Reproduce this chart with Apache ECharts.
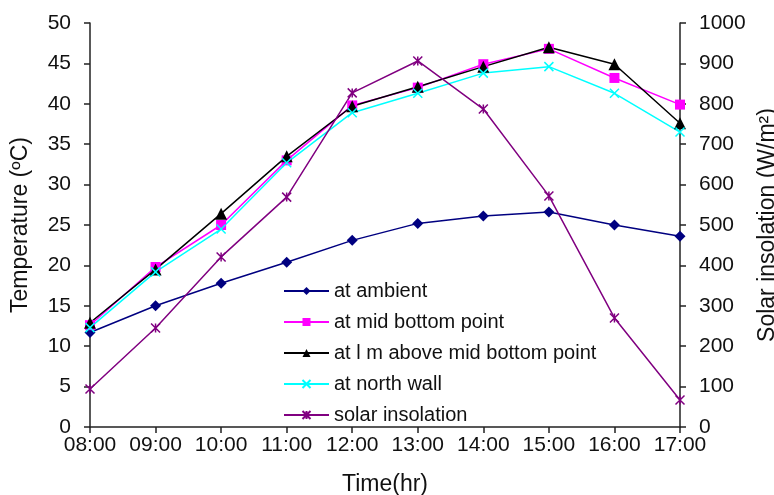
<!DOCTYPE html>
<html>
<head>
<meta charset="utf-8">
<script src="https://cdn.jsdelivr.net/npm/echarts@6/dist/echarts.min.js"></script>
<style>
  html, body { margin: 0; padding: 0; background: #fff; }
  #chart { width: 774px; height: 495px; }
</style>
</head>
<body>
<div id="chart"></div>
<script>
// Hourly readings, 08:00 to 17:00
const hours = ['08:00', '09:00', '10:00', '11:00', '12:00', '13:00', '14:00', '15:00', '16:00', '17:00'];
const tempAmbient = [11.7, 15.0, 17.8, 20.4, 23.1, 25.2, 26.1, 26.6, 25.0, 23.6];
const tempMidBottom = [12.6, 19.8, 25.0, 33.0, 39.8, 42.0, 44.9, 46.8, 43.2, 39.9];
const tempAboveMid = [12.9, 19.5, 26.4, 33.5, 39.7, 42.1, 44.6, 47.0, 44.9, 37.6];
const tempNorthWall = [12.3, 19.2, 24.5, 32.7, 38.9, 41.3, 43.8, 44.6, 41.3, 36.5];
const solarInsolation = [94, 245, 421, 569, 827, 906, 787, 572, 270, 67];

const FONT = '"Liberation Sans", Arial, sans-serif';
const AXIS_COLOR = '#222';

// Stroked marker shapes: a cross and an asterisk
const crossPath = 'path://M0,0L10,10M10,0L0,10';
const starPath = 'path://M0,0L10,10M10,0L0,10M5,0L5,10';

function lineSeries(name, data, color, symbol, size, yAxisIndex, stroked) {
  return {
    name: name,
    type: 'line',
    data: data,
    yAxisIndex: yAxisIndex,
    symbol: symbol,
    symbolSize: size,
    showAllSymbol: true,
    lineStyle: { color: color, width: 1.5 },
    itemStyle: stroked
      ? { color: 'rgba(0,0,0,0)', borderColor: color, borderWidth: 1.5 }
      : { color: color, borderWidth: 0 },
    emphasis: { disabled: true },
    animation: false
  };
}

const chart = echarts.init(document.getElementById('chart'), null, { renderer: 'canvas' });
chart.setOption({
  backgroundColor: '#fff',
  textStyle: { fontFamily: FONT },
  grid: { left: 90, right: 94, top: 23, bottom: 68, containLabel: false, outerBoundsMode: 'none' },
  legend: {
    orient: 'vertical',
    left: 278,
    top: 276,
    itemWidth: 45,
    itemHeight: 10,
    itemGap: 11,
    textStyle: { fontFamily: FONT, fontSize: 20, color: '#111', lineHeight: 20 },
    data: ['at ambient', 'at mid bottom point', 'at l m above mid bottom point', 'at north wall', 'solar insolation']
  },
  xAxis: {
    type: 'category',
    data: hours,
    boundaryGap: false,
    name: 'Time(hr)',
    nameLocation: 'middle',
    nameGap: 46,
    nameTextStyle: { fontFamily: FONT, fontSize: 23, color: '#111' },
    axisLine: { lineStyle: { color: AXIS_COLOR, width: 1.5 } },
    axisTick: { show: true, length: 6, lineStyle: { color: AXIS_COLOR, width: 1.5 } },
    axisLabel: { fontFamily: FONT, fontSize: 21, color: '#111', margin: 8, interval: 0 },
    splitLine: { show: false }
  },
  yAxis: [
    {
      type: 'value',
      min: 0, max: 50, interval: 5,
      name: 'Temperature (ºC)',
      nameLocation: 'middle',
      nameRotate: 90,
      nameGap: 58,
      nameTextStyle: { fontFamily: FONT, fontSize: 23, color: '#111' },
      axisLine: { show: true, lineStyle: { color: AXIS_COLOR, width: 1.5 } },
      axisTick: { show: true, length: 6, lineStyle: { color: AXIS_COLOR, width: 1.5 } },
      axisLabel: { fontFamily: FONT, fontSize: 21, color: '#111', margin: 19 },
      splitLine: { show: false }
    },
    {
      type: 'value',
      position: 'right',
      min: 0, max: 1000, interval: 100,
      name: 'Solar insolation (W/m²)',
      nameLocation: 'middle',
      nameRotate: 90,
      nameGap: 70,
      nameTextStyle: { fontFamily: FONT, fontSize: 23, color: '#111' },
      axisLine: { show: true, lineStyle: { color: AXIS_COLOR, width: 1.5 } },
      axisTick: { show: true, length: 6, lineStyle: { color: AXIS_COLOR, width: 1.5 } },
      axisLabel: { fontFamily: FONT, fontSize: 21, color: '#111', margin: 19, formatter: (v) => String(v) },
      splitLine: { show: false }
    }
  ],
  series: [
    lineSeries('at ambient', tempAmbient, '#000080', 'diamond', 11, 0, false),
    lineSeries('at mid bottom point', tempMidBottom, '#FF00FF', 'rect', 10, 0, false),
    lineSeries('at l m above mid bottom point', tempAboveMid, '#000000', 'triangle', 12, 0, false),
    lineSeries('at north wall', tempNorthWall, '#00FFFF', crossPath, 9, 0, true),
    lineSeries('solar insolation', solarInsolation, '#800080', starPath, 9, 1, true)
  ]
});
</script>
</body>
</html>
